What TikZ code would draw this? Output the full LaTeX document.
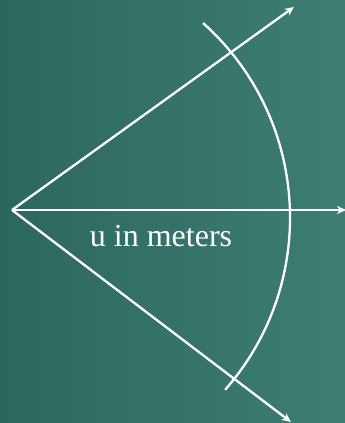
\documentclass[tikz,border=0pt]{standalone}
\usepackage{fontspec}
\setmainfont{Liberation Serif}
\usepackage{tikz}
\usetikzlibrary{arrows.meta, positioning}
\definecolor{verdeoscuro}{RGB}{44, 103, 94}
\definecolor{verdeclaro}{RGB}{62, 126, 114}

\begin{document}
\begin{tikzpicture}[x=1pt, y=1pt,
    ray/.style={-{Stealth[length=9pt, width=8pt]}, line width=2.3pt, white},
    arcline/.style={line width=2.3pt, white},
    label/.style={text=white, font=\fontsize{32}{36}\selectfont, inner sep=0pt}
]
\useasboundingbox (0,0) rectangle (345,423);
\shade[left color=verdeoscuro, right color=verdeclaro] (0,0) rectangle (345,423);
\coordinate (apex) at (12,213);
\coordinate (up) at (294,416);
\coordinate (right) at (346,213);
\coordinate (down) at (291,1);
\draw [ray] (apex) -- (up);
\draw [ray] (apex) -- (right);
\draw [ray] (apex) -- (down);
\coordinate (arcstart) at (203,400);
\draw [arcline] (arcstart) arc[start angle=48.2, end angle=-41.3, radius=261];
\node (u) [label] at (161,187) {u in meters};
\end{tikzpicture}
\end{document}
